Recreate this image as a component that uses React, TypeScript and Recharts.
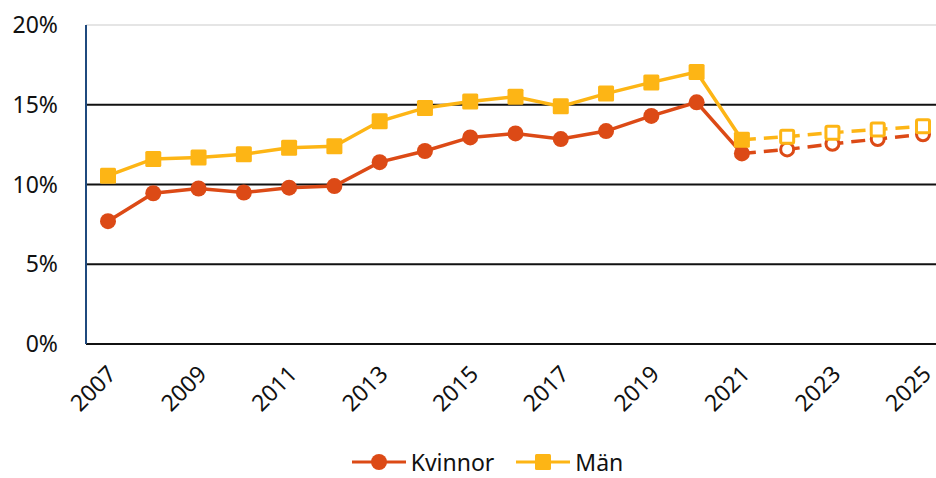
import { LineChart, Line, XAxis, YAxis, CartesianGrid, ReferenceLine, Legend } from "recharts";

const years = ["2007", "2008", "2009", "2010", "2011", "2012", "2013", "2014", "2015", "2016", "2017", "2018", "2019", "2020", "2021", "2022", "2023", "2024", "2025"];
const kvinnor = [7.7, 9.45, 9.75, 9.5, 9.8, 9.9, 11.4, 12.1, 12.95, 13.2, 12.85, 13.35, 14.3, 15.15, 11.95, null, null, null, null];
const man = [10.55, 11.6, 11.7, 11.9, 12.3, 12.4, 13.96, 14.8, 15.2, 15.5, 14.9, 15.7, 16.4, 17.05, 12.8, null, null, null, null];
const kvinnorPrognos = [null, null, null, null, null, null, null, null, null, null, null, null, null, null, 11.95, 12.2, 12.55, 12.85, 13.15];
const manPrognos = [null, null, null, null, null, null, null, null, null, null, null, null, null, null, 12.8, 13.0, 13.25, 13.45, 13.65];
const yTicks = [0, 5, 10, 15, 20];

const RED = "#DC4A16";
const YELLOW = "#FDB515";
const FONT = "'Noto Sans', sans-serif";

const data = years.map((y, i) => ({
  year: y,
  kvinnor: kvinnor[i],
  man: man[i],
  kvinnorP: kvinnorPrognos[i],
  manP: manPrognos[i],
}));

const Square = (props: any) => {
  const { cx, cy, value, fill, hollow, index } = props;
  if (value == null || cx == null) return null;
  if (hollow && index === 14) return null;
  const s = hollow ? 13 : 16;
  return (
    <rect
      key={`sq-${index}`}
      x={cx - s / 2}
      y={cy - s / 2}
      width={s}
      height={s}
      rx={1.5}
      fill={hollow ? "#fff" : fill}
      stroke={fill}
      strokeWidth={hollow ? 3 : 0}
    />
  );
};

const Circle = (props: any) => {
  const { cx, cy, value, fill, hollow, index } = props;
  if (value == null || cx == null) return null;
  if (hollow && index === 14) return null;
  return (
    <circle
      key={`ci-${index}`}
      cx={cx}
      cy={cy}
      r={hollow ? 6.5 : 8}
      fill={hollow ? "#fff" : fill}
      stroke={fill}
      strokeWidth={hollow ? 3 : 0}
    />
  );
};

const LegendContent = () => (
  <div style={{ display: "flex", justifyContent: "center", gap: 22, fontFamily: FONT, fontSize: 23, lineHeight: "28px", color: "#111", marginLeft: 30 }}>
    <div style={{ display: "flex", alignItems: "center", gap: 5 }}>
      <svg width={54} height={20}>
        <line x1={0} y1={10} x2={54} y2={10} stroke={RED} strokeWidth={3} />
        <circle cx={27} cy={10} r={8} fill={RED} />
      </svg>
      <span>Kvinnor</span>
    </div>
    <div style={{ display: "flex", alignItems: "center", gap: 5 }}>
      <svg width={54} height={20}>
        <line x1={0} y1={10} x2={54} y2={10} stroke={YELLOW} strokeWidth={3} />
        <rect x={19} y={2} width={16} height={16} rx={1.5} fill={YELLOW} />
      </svg>
      <span>Män</span>
    </div>
  </div>
);

export default function App() {
  return (
    <div style={{ position: "absolute", left: 0, top: 0, width: 936, height: 478, overflow: "hidden", background: "#fff" }}>
      <LineChart
        width={960}
        height={478}
        data={data}
        margin={{ top: 25, right: 15, bottom: 2, left: 0 }}
      >
        <CartesianGrid vertical={false} horizontalValues={[5, 10, 15]} stroke="#111" strokeWidth={2} strokeDasharray="" />
        <ReferenceLine y={20} stroke="#dddddd" strokeWidth={1.5} />
        <XAxis
          dataKey="year"
          interval={1}
          padding={{ left: 22, right: 22 }}
          tickLine={false}
          axisLine={{ stroke: "#111", strokeWidth: 2 }}
          height={104}
          tick={{ fontFamily: FONT, fontSize: 23, fill: "#111", angle: -45, textAnchor: "end", dx: -2, dy: 6 }}
          tickMargin={8}
        />
        <YAxis
          domain={[0, 20]}
          ticks={yTicks}
          tickFormatter={(v: number) => `${v}%`}
          width={86}
          tickLine={false}
          axisLine={{ stroke: "#1F4A7E", strokeWidth: 2 }}
          tick={{ fontFamily: FONT, fontSize: 23, fill: "#111" }}
          tickMargin={22}
        />
        <Legend verticalAlign="bottom" content={<LegendContent />} />
        <Line
          dataKey="kvinnorP"
          stroke={RED}
          strokeWidth={3.5}
          strokeDasharray="14 8"
          isAnimationActive={false}
          dot={(p: any) => <Circle {...p} fill={RED} hollow />}
          activeDot={false}
        />
        <Line
          dataKey="manP"
          stroke={YELLOW}
          strokeWidth={3.5}
          strokeDasharray="14 8"
          isAnimationActive={false}
          dot={(p: any) => <Square {...p} fill={YELLOW} hollow />}
          activeDot={false}
        />
        <Line
          dataKey="kvinnor"
          stroke={RED}
          strokeWidth={3.5}
          isAnimationActive={false}
          dot={(p: any) => <Circle {...p} fill={RED} />}
          activeDot={false}
        />
        <Line
          dataKey="man"
          stroke={YELLOW}
          strokeWidth={3.5}
          isAnimationActive={false}
          dot={(p: any) => <Square {...p} fill={YELLOW} />}
          activeDot={false}
        />
      </LineChart>
    </div>
  );
}
